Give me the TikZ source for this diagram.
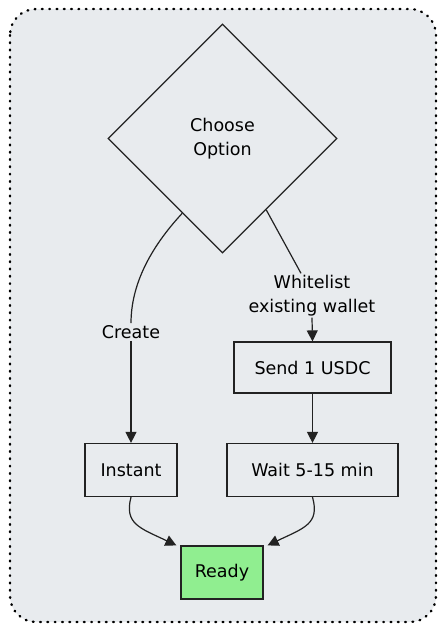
\documentclass[tikz,border=0pt]{standalone}
\usepackage{fontspec}
\setmainfont{DejaVu Sans}
\usetikzlibrary{shapes.geometric,arrows.meta,calc}
\definecolor{bgc}{HTML}{E8EBEE}
\definecolor{ink}{HTML}{222222}
\definecolor{readyc}{HTML}{90EE90}
\begin{document}
\begin{tikzpicture}[x=1pt,y=-1pt,
  every node/.style={font=\fontsize{17.5}{24}\selectfont, text=black},
  stepbox/.style={draw=ink, line width=1.2pt, rectangle, inner sep=0pt},
  lbl/.style={fill=bgc, inner sep=2pt, align=center},
  conn/.style={draw=ink, line width=1.2pt},
  arr/.style={conn, -{Triangle[length=11pt,width=11pt]}}]
\useasboundingbox (0,0) rectangle (445,630);
\draw[fill=bgc, draw=black, line width=2.4pt, dash pattern=on 0.8pt off 6.5pt, line cap=round, rounded corners=26] (10,9) rectangle (436,622);

\node[diamond, draw=ink, line width=1.2pt, minimum width=229pt, minimum height=229pt, inner sep=0pt, align=center] (choose) at (222.5,138.5) {Choose\\Option};
\node[stepbox, minimum width=92pt, minimum height=53pt] (instant) at (131,470) {Instant};
\node[stepbox, minimum width=157pt, minimum height=51pt] (send) at (312.5,367.5) {Send 1 USDC};
\node[stepbox, minimum width=171pt, minimum height=53pt] (wait) at (312.5,470) {Wait 5-15 min};
\node[stepbox, fill=readyc, minimum width=82pt, minimum height=53pt] (ready) at (222,572.5) {Ready};

\node[lbl] (create) at (131,332) {Create};
\node[lbl, inner sep=1pt] (wl) at (312,296) {Whitelist\\existing wallet};

\coordinate (cl) at ($(choose.west)!0.65!(choose.south)$);
\coordinate (cr) at ($(choose.east)!0.62!(choose.south)$);

\draw[conn] (cl) .. controls (150,248) and (131,285) .. (create.north);
\draw[arr] (create.south) -- (instant.north);
\draw[conn] (cr) -- ($(wl.north)+(-11,-1)$);
\draw[arr] (wl.south) -- (send.north);
\draw[arr] (send.south) -- (wait.north);
\draw[arr] (instant.south) .. controls (124,524) and (140,528) .. ($(ready.north west)+(-4,0)$);
\draw[arr] (wait.south) .. controls (320,524) and (304,528) .. ($(ready.north east)+(4,0)$);
\end{tikzpicture}
\end{document}
